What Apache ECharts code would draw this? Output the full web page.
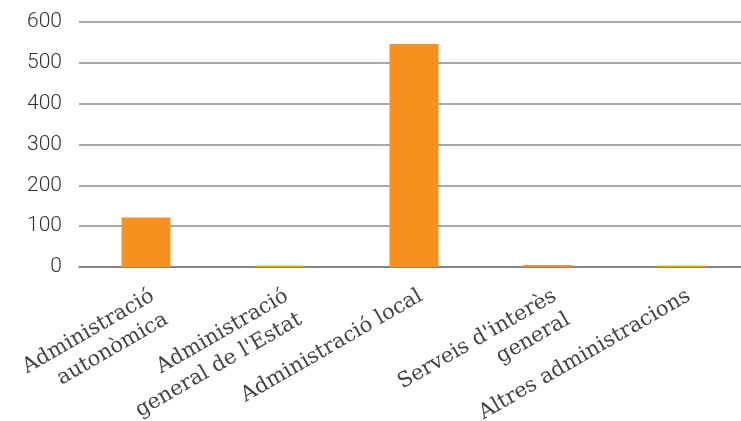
<!DOCTYPE html>
<html>
<head>
<meta charset="utf-8">
<script src="https://cdn.jsdelivr.net/npm/echarts@6/dist/echarts.min.js"></script>
<style>
  html, body { margin: 0; padding: 0; background: #fff; overflow: hidden; }
  #chart { width: 749px; height: 421px; }
</style>
</head>
<body>
<div id="chart"></div>
<script>
  // categories and values
  var categories = [
    'Administració\nautonòmica',
    'Administració\ngeneral de l\'Estat',
    'Administració local',
    'Serveis d\'interès\ngeneral',
    'Altres administracions'
  ];
  var values = [121, 3, 546, 5, 3];
  var yTicks = [0, 100, 200, 300, 400, 500, 600];

  // the plot runs a few pixels past the right edge of the window, as in the original
  var chart = echarts.init(document.getElementById('chart'));
  var option = {
    animation: false,
    grid: { left: 79, right: 0, top: 22, bottom: 154, containLabel: false, outerBoundsMode: 'none' },
    xAxis: {
      type: 'category',
      data: categories,
      axisTick: { show: false },
      axisLine: { show: true, lineStyle: { color: '#7a7a7a', width: 1.5 } },
      axisLabel: {
        rotate: 30,
        interval: 0,
        margin: 16,
        verticalAlign: 'top',
        fontFamily: 'DejaVu Serif',
        fontSize: 21,
        color: '#444',
        lineHeight: 27
      }
    },
    yAxis: {
      type: 'value',
      min: 0,
      max: yTicks[yTicks.length - 1],
      interval: 100,
      axisLine: { show: false },
      axisTick: { show: false },
      splitLine: { lineStyle: { color: '#8a8a8a', width: 1.5 } },
      axisLabel: {
        margin: 17,
        fontFamily: 'Roboto',
        fontWeight: 300,
        fontSize: 21,
        color: '#333'
      }
    },
    series: [{
      type: 'bar',
      data: values,
      barWidth: 49,
      itemStyle: { color: '#f7901e' }
    }]
  };
  chart.setOption(option);
</script>
</body>
</html>
